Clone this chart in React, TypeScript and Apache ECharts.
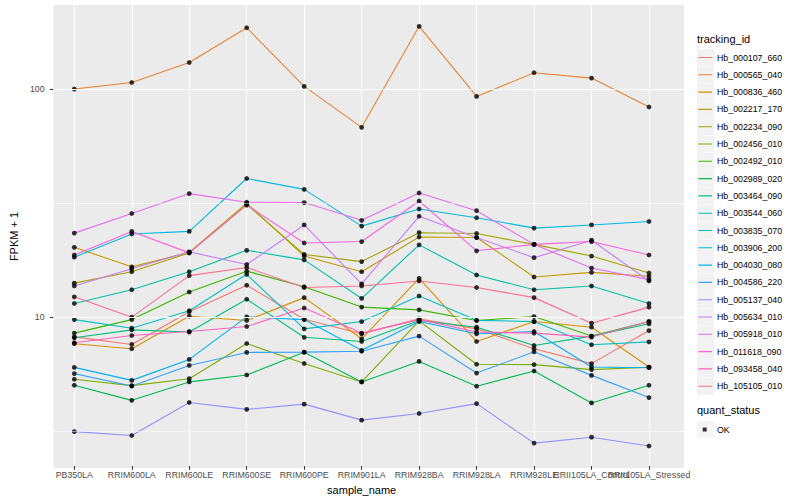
import React, { useEffect, useRef } from "react";
import * as echarts from "echarts";

// ---- data ----
const sampleNames = [
  "PB350LA", "RRIM600LA", "RRIM600LE", "RRIM600SE", "RRIM600PE", "RRIM901LA",
  "RRIM928BA", "RRIM928LA", "RRIM928LE", "RRII105LA_Control", "RRII105LA_Stressed",
];

const trackingIds = [
  "Hb_000107_660", "Hb_000565_040", "Hb_000836_460", "Hb_002217_170", "Hb_002234_090",
  "Hb_002456_010", "Hb_002492_010", "Hb_002989_020", "Hb_003464_090", "Hb_003544_060",
  "Hb_003835_070", "Hb_003906_200", "Hb_004030_080", "Hb_004586_220", "Hb_005137_040",
  "Hb_005634_010", "Hb_005918_010", "Hb_011618_090", "Hb_093458_040", "Hb_105105_010",
];

const quantStatus = ["OK"];
const yTickValues = [10, 100];
const yMinorValues = [3.1623, 31.623];

// FPKM + 1 per tracking id, in sample order
const hb000107_660 = [8.06, 7.46, 10.4, 13.6, 9.64, 8.31, 9.67, 8.74, 7.14, 6.14, 8.59];
const hb000565_040 = [99.7, 106.6, 130.5, 185.8, 102.4, 67.6, 188.5, 92.5, 117.6, 111.4, 83.1];
const hb000836_460 = [7.51, 7.14, 9.94, 9.51, 12.0, 7.9, 14.6, 7.69, 9.41, 8.89, 5.93];
const hb002217_170 = [20.0, 16.4, 19.0, 31.3, 18.3, 15.6, 22.2, 22.1, 14.8, 15.5, 14.9];
const hb002234_090 = [13.9, 15.6, 18.9, 30.9, 18.6, 17.3, 23.2, 23.0, 20.6, 18.3, 15.4];
const hb002456_010 = [5.24, 4.91, 5.27, 7.53, 6.15, 5.1, 9.48, 6.1, 6.08, 5.78, 5.92];
const hb002492_010 = [8.37, 9.6, 12.7, 15.7, 13.4, 10.9, 10.6, 9.51, 9.9, 8.12, 9.41];
const hb002989_020 = [4.93, 4.23, 5.1, 5.47, 6.89, 5.1, 6.28, 4.88, 5.7, 4.12, 4.93];
const hb003464_090 = [7.98, 8.65, 8.46, 11.8, 8.02, 7.69, 9.51, 8.89, 7.38, 8.12, 9.2];
const hb003544_060 = [11.3, 13.0, 15.6, 19.4, 17.6, 11.9, 20.5, 15.1, 13.0, 13.5, 11.3];
const hb003835_070 = [9.6, 8.8, 10.5, 15.2, 8.74, 9.41, 12.2, 9.53, 9.41, 7.44, 7.66];
const hb003906_200 = [18.1, 22.9, 23.5, 40.2, 36.0, 24.8, 29.5, 27.0, 24.3, 25.1, 26.0];
const hb004030_080 = [5.91, 5.18, 6.41, 9.87, 9.6, 7.03, 9.41, 8.31, 8.51, 5.93, 5.89];
const hb004586_220 = [5.55, 4.89, 6.03, 6.88, 6.9, 6.96, 8.12, 5.58, 6.92, 5.45, 4.35];
const hb005137_040 = [3.08, 2.96, 4.14, 3.86, 4.07, 3.46, 3.7, 4.09, 2.74, 2.91, 2.66];
const hb005634_010 = [13.5, 16.1, 19.1, 16.8, 25.1, 13.8, 27.4, 22.1, 18.0, 21.5, 14.2];
const hb005918_010 = [23.1, 28.2, 34.5, 31.6, 31.5, 26.3, 34.7, 29.0, 20.6, 16.2, 14.4];
const hb011618_090 = [18.5, 23.5, 18.9, 30.7, 20.9, 21.2, 32.0, 19.3, 20.6, 21.2, 18.5];
const hb093458_040 = [7.59, 8.17, 8.51, 8.95, 10.8, 8.37, 9.6, 8.46, 8.37, 8.04, 9.41];
const hb105105_010 = [12.1, 9.84, 15.0, 16.3, 13.3, 13.5, 14.2, 13.3, 12.0, 9.26, 10.9];

const seriesValues = [
  hb000107_660, hb000565_040, hb000836_460, hb002217_170, hb002234_090,
  hb002456_010, hb002492_010, hb002989_020, hb003464_090, hb003544_060,
  hb003835_070, hb003906_200, hb004030_080, hb004586_220, hb005137_040,
  hb005634_010, hb005918_010, hb011618_090, hb093458_040, hb105105_010,
];

// ---- styles ----
const palette = [
  "#F8766D", "#EA8331", "#D89000", "#C09B00", "#A3A500", "#7CAE00", "#39B600",
  "#00BB4E", "#00BF7D", "#00C1A3", "#00BFC4", "#00BAE0", "#00B0F6", "#35A2FF",
  "#9590FF", "#C77CFF", "#E76BF3", "#FA62DB", "#FF62BC", "#FF6C91",
];

const FONT = "Liberation Sans, Arial, Helvetica, sans-serif";
const LINE_ICON =
  "path://M0,0h0.01v0.01h-0.01z M1.3,7.95h13.7v1.1h-13.7z M14.99,16.99h0.01v0.01h-0.01z";
const DOT_ICON =
  "path://M0,0h0.01v0.01h-0.01z M5.7,6.5h4v4h-4z M14.99,16.99h0.01v0.01h-0.01z";

const Y_MIN = 2.17;
const Y_MAX = 234;

export default function App() {
  const ref = useRef<HTMLDivElement>(null);

  useEffect(() => {
    if (!ref.current) return;
    const chart = echarts.init(ref.current, undefined, { renderer: "svg" });

    const lineSeries = trackingIds.map((name, i) => ({
      name,
      type: "line",
      xAxisIndex: 0,
      yAxisIndex: 1,
      data: seriesValues[i],
      symbol: "none",
      showSymbol: false,
      silent: true,
      z: 2,
      lineStyle: { color: palette[i], width: 1.1 },
      itemStyle: { color: palette[i] },
    }));

    const pointData: [number, number][] = [];
    seriesValues.forEach((vals) => vals.forEach((v, j) => pointData.push([j, v])));

    const gridLineStyle = (w: number) => ({ color: "#FFFFFF", width: w, type: "solid" });
    const keyBoxLegend = (top: number, names: string[], gap: number) => ({
      orient: "vertical",
      left: 697,
      top,
      padding: 0,
      itemWidth: 17,
      itemHeight: 17,
      itemGap: gap,
      selectedMode: false,
      z: 3,
      itemStyle: { borderWidth: 0 },
      formatter: () => "",
      textStyle: { fontSize: 8.8, fontFamily: FONT },
      data: names.map((name) => ({ name, icon: "rect", itemStyle: { color: "#F2F2F2", borderWidth: 0 } })),
    });

    const option: any = {
      animation: false,
      backgroundColor: "#FFFFFF",
      textStyle: { fontFamily: FONT },
      title: [
        {
          text: "tracking_id",
          left: 697,
          top: 33.5,
          padding: 0,
          textStyle: { fontSize: 11, fontWeight: "normal", color: "#000000", fontFamily: FONT },
        },
        {
          text: "quant_status",
          left: 697,
          top: 404.5,
          padding: 0,
          textStyle: { fontSize: 11, fontWeight: "normal", color: "#000000", fontFamily: FONT },
        },
      ],
      grid: [
        { left: 40, right: 116, top: 5, bottom: 32, show: true, backgroundColor: "#EBEBEB", borderWidth: 0, z: -1 },
        { left: 74.3, right: 151, top: 5, bottom: 32, show: false },
      ],
      xAxis: [
        {
          gridIndex: 1,
          type: "category",
          data: sampleNames,
          boundaryGap: false,
          axisLine: { show: false },
          axisTick: { show: true, interval: 0, length: 3.7, lineStyle: { color: "#333333", width: 1.07 } },
          axisLabel: { interval: 0, color: "#4D4D4D", fontSize: 8.8, margin: 4, fontFamily: FONT },
          splitLine: { show: true, interval: 0, lineStyle: gridLineStyle(1.07) },
          name: "sample_name",
          nameLocation: "middle",
          nameGap: 13.5,
          nameTextStyle: { color: "#000000", fontSize: 11, fontFamily: FONT },
        },
        { gridIndex: 0, type: "value", min: 0, max: 1, show: false },
      ],
      yAxis: [
        {
          gridIndex: 0,
          type: "log",
          logBase: 10,
          min: Y_MIN,
          max: Y_MAX,
          axisLine: { show: false },
          axisTick: { show: true, length: 3.7, customValues: yTickValues, lineStyle: { color: "#333333", width: 1.07 } },
          axisLabel: { customValues: yTickValues, color: "#4D4D4D", fontSize: 8.8, margin: 9, fontFamily: FONT },
          splitLine: { show: false },
          minorSplitLine: { show: false },
          name: "FPKM + 1",
          nameLocation: "middle",
          nameGap: 22,
          nameTextStyle: { color: "#000000", fontSize: 11, fontFamily: FONT },
        },
        { gridIndex: 1, type: "log", logBase: 10, min: Y_MIN, max: Y_MAX, show: false },
      ],
      legend: [
        keyBoxLegend(49, trackingIds, 0.3),
        {
          orient: "vertical",
          left: 697,
          top: 49,
          padding: 0,
          itemWidth: 15,
          itemHeight: 17,
          itemGap: 0.3,
          selectedMode: false,
          z: 4,
          itemStyle: { borderWidth: 0 },
          textStyle: { color: "#000000", fontSize: 8.8, fontFamily: FONT },
          data: trackingIds.map((name, i) => ({ name, icon: LINE_ICON, itemStyle: { color: palette[i], borderWidth: 0 } })),
        },
        keyBoxLegend(421, quantStatus, 0.3),
        {
          orient: "vertical",
          left: 697,
          top: 421,
          padding: 0,
          itemWidth: 15,
          itemHeight: 17,
          selectedMode: false,
          z: 4,
          itemStyle: { borderWidth: 0 },
          textStyle: { color: "#000000", fontSize: 8.8, fontFamily: FONT },
          data: quantStatus.map((name) => ({ name, icon: DOT_ICON, itemStyle: { color: "#000000", borderWidth: 0 } })),
        },
      ],
      series: [
        {
          name: "__grid",
          type: "line",
          xAxisIndex: 1,
          yAxisIndex: 0,
          data: [[0, 10], [1, 10]],
          symbol: "none",
          silent: true,
          z: 1,
          lineStyle: { opacity: 0, width: 0 },
          markLine: {
            silent: true,
            symbol: "none",
            animation: false,
            label: { show: false },
            data: [
              ...yTickValues.map((v) => ({ yAxis: v, lineStyle: gridLineStyle(1.07) })),
              ...yMinorValues.map((v) => ({ yAxis: v, lineStyle: gridLineStyle(0.53) })),
            ],
          },
        },
        ...lineSeries,
        {
          name: quantStatus[0],
          type: "scatter",
          xAxisIndex: 0,
          yAxisIndex: 1,
          data: pointData,
          symbol: "circle",
          symbolSize: 4.8,
          silent: true,
          z: 3,
          itemStyle: { color: "#000000" },
        },
      ],
    };

    chart.setOption(option);
    return () => chart.dispose();
  }, []);

  return (
    <div
      ref={ref}
      style={{ position: "fixed", left: 0, top: 0, width: 800, height: 500, background: "#FFFFFF" }}
    />
  );
}
